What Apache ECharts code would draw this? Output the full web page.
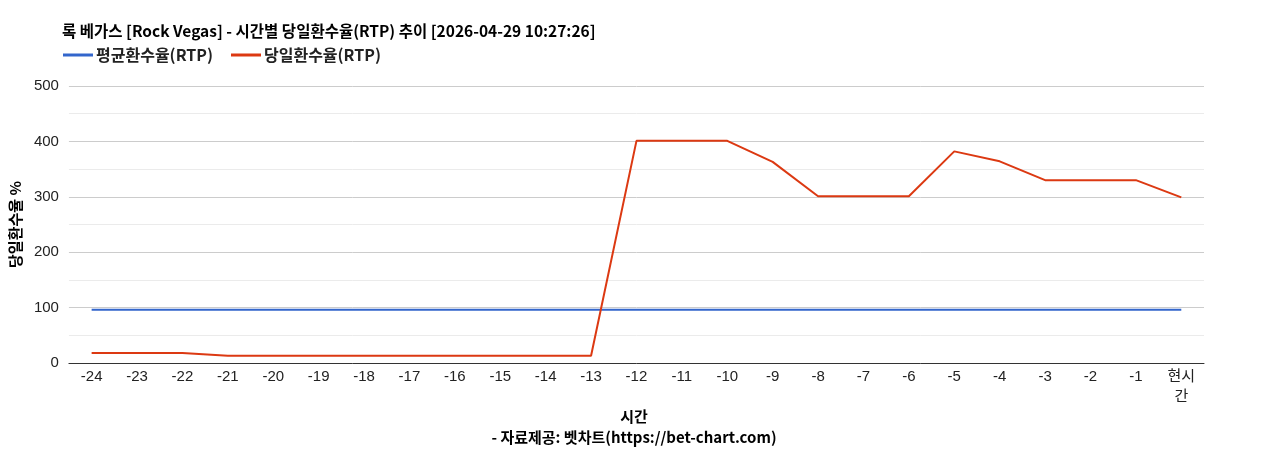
<!DOCTYPE html>
<html>
<head>
<meta charset="utf-8">
<script src="https://cdn.jsdelivr.net/npm/echarts@6/dist/echarts.min.js"></script>
<style>
html,body{margin:0;padding:0;background:#fff;}
#chart{width:1268px;height:450px;}
</style>
</head>
<body>
<div id="chart"></div>
<script>
// 시간대 (x축)
var hours = ['-24','-23','-22','-21','-20','-19','-18','-17','-16','-15','-14','-13',
             '-12','-11','-10','-9','-8','-7','-6','-5','-4','-3','-2','-1','현시간'];
// 평균환수율(RTP)
var avgRtp = [96,96,96,96,96,96,96,96,96,96,96,96,96,96,96,96,96,96,96,96,96,96,96,96,96];
// 당일환수율(RTP)
var dayRtp = [18,18,18,13,13,13,13,13,13,13,13,13,401,401,401,363,301,301,301,382,364,330,330,330,299];
var yTicks = [0,100,200,300,400,500];

var fontKr = '"Noto Sans CJK KR", "Liberation Sans", Arial, sans-serif';
var fontNum = '"Liberation Sans", Arial, "Noto Sans CJK KR", sans-serif';

var chart = echarts.init(document.getElementById('chart'));

var option = {
    animation: false,
    backgroundColor: '#fff',
    title: [{
        text: '록 베가스 [Rock Vegas] - 시간별 당일환수율(RTP) 추이 [2026-04-29 10:27:26]',
        left: 62, top: 23, padding: 0,
        textStyle: {fontFamily: fontKr, fontSize: 15.5, fontWeight: 'bold', color: '#000'}
    }, {
        text: '시간',
        left: 'center', top: 409, padding: 0,
        textStyle: {fontFamily: fontKr, fontSize: 15, fontWeight: 'bold', color: '#000'}
    }, {
        text: '- 자료제공: 벳차트(https://bet-chart.com)',
        left: 'center', top: 430, padding: 0,
        textStyle: {fontFamily: fontKr, fontSize: 15, fontWeight: 'bold', color: '#000'}
    }],
    legend: {
        left: 63, top: 47, padding: 0,
        itemWidth: 30, itemHeight: 3, itemGap: 18,
        icon: 'rect',
        textStyle: {fontFamily: fontKr, fontSize: 16, fontWeight: 'bold', color: '#222', padding: [0, 0, 0, -2]},
        data: ['평균환수율(RTP)', '당일환수율(RTP)']
    },
    grid: {left: 63, right: 64, top: 86, bottom: 87},
    xAxis: {
        type: 'category',
        data: hours,
        boundaryGap: true,
        axisLine: {lineStyle: {color: '#333', width: 1}},
        axisTick: {show: false},
        axisLabel: {
            interval: 0, margin: 4,
            fontFamily: fontNum, fontSize: 15, color: '#222', lineHeight: 20,
            formatter: function (v) {
                return v === '현시간' ? '현시\n간' : v;
            }
        }
    },
    yAxis: {
        type: 'value',
        min: 0, max: 500, interval: 100,
        name: '당일환수율 %',
        nameLocation: 'middle', nameGap: 41, nameRotate: 90,
        nameTextStyle: {fontFamily: fontKr, fontSize: 15, fontWeight: 'bold', color: '#000'},
        axisLine: {show: false},
        axisTick: {show: false},
        axisLabel: {
            fontFamily: fontNum, fontSize: 15, color: '#222', margin: 10,
            formatter: function (v) { return yTicks.indexOf(v) >= 0 ? String(v) : ''; }
        },
        splitLine: {lineStyle: {color: '#cccccc', width: 1}},
        minorTick: {show: false, splitNumber: 2},
        minorSplitLine: {show: true, lineStyle: {color: '#ebebeb', width: 1}}
    },
    series: [{
        name: '평균환수율(RTP)',
        type: 'line',
        data: avgRtp,
        symbol: 'none',
        lineStyle: {color: '#3366cc', width: 2},
        itemStyle: {color: '#3366cc'}
    }, {
        name: '당일환수율(RTP)',
        type: 'line',
        data: dayRtp,
        symbol: 'none',
        lineStyle: {color: '#dc3912', width: 2},
        itemStyle: {color: '#dc3912'}
    }]
};

chart.setOption(option);
</script>
</body>
</html>
